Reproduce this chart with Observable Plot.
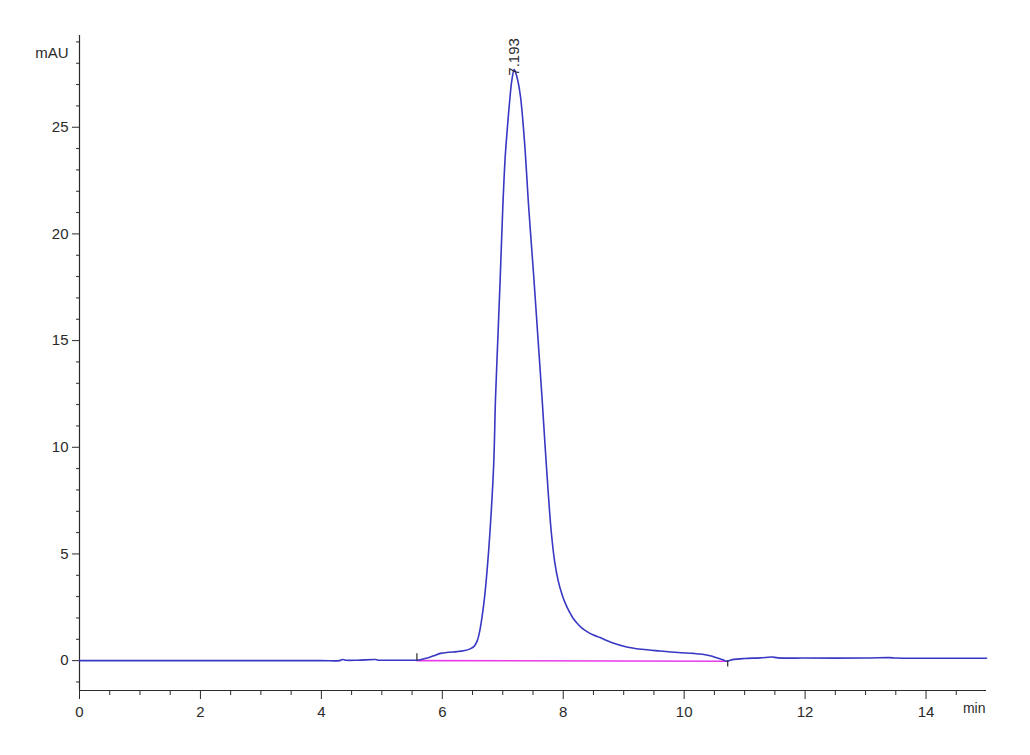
<!DOCTYPE html>
<html>
<head>
<meta charset="utf-8">
<script src="https://cdn.jsdelivr.net/npm/d3@7"></script>
<script src="https://cdn.jsdelivr.net/npm/@observablehq/plot@0.6"></script>
<style>
  html, body { margin: 0; padding: 0; background: #fff; }
  #chart svg { display: block; }
</style>
</head>
<body>
<div id="chart"></div>
<script>
// Chromatogram trace (time in min, absorbance in mAU)
const times = [0, 1, 2, 3, 4, 4.3, 4.35, 4.4, 4.6, 4.9, 4.95, 5.0, 5.3, 5.58, 5.65, 5.75, 5.86, 5.97, 6.1, 6.24, 6.35, 6.46, 6.53, 6.58, 6.62, 6.66, 6.7, 6.74, 6.79, 6.85, 6.88, 6.92, 6.96, 7.0, 7.04, 7.08, 7.11, 7.15, 7.19, 7.23, 7.29, 7.36, 7.43, 7.51, 7.58, 7.65, 7.72, 7.8, 7.86, 7.92, 7.98, 8.04, 8.1, 8.16, 8.23, 8.3, 8.4, 8.5, 8.61, 8.8, 9.05, 9.3, 9.6, 9.9, 10.15, 10.3, 10.43, 10.55, 10.65, 10.7, 10.76, 10.82, 11.0, 11.26, 11.45, 11.55, 12, 13, 13.4, 13.5, 14, 15];
const absorbance = [0, 0, 0, 0, 0, 0, 0.05, 0.02, 0.02, 0.05, 0.02, 0.02, 0.02, 0.02, 0.05, 0.12, 0.23, 0.34, 0.39, 0.42, 0.46, 0.55, 0.68, 0.95, 1.4, 2.1, 3.0, 4.2, 6.1, 9.2, 12.3, 15.2, 18.1, 21.2, 23.6, 25.1, 26.1, 27.2, 27.7, 27.4, 26.5, 24.3, 21.2, 18.1, 15.2, 12.3, 9.2, 6.1, 4.6, 3.7, 3.1, 2.65, 2.3, 2.0, 1.75, 1.55, 1.35, 1.2, 1.08, 0.85, 0.64, 0.53, 0.45, 0.38, 0.34, 0.3, 0.23, 0.12, 0.03, -0.03, 0.02, 0.06, 0.1, 0.13, 0.17, 0.13, 0.12, 0.12, 0.14, 0.12, 0.11, 0.11];

// Integration baseline
const baselineTimes = [5.58, 10.72];
const baselineValues = [0.0, -0.03];

// Peak start / end event markers
const markerTimes = [5.58, 10.72];
const markerFrom = [0, -0.3];
const markerTo = [0.32, 0];

// Peak label
const peakTimes = [7.193];
const peakHeights = [27.7];
const peakLabels = ["7.193"];

// Axes
const xDomain = [0, 15];
const yDomain = [-1.4, 29.3];
const xMajorTicks = [0, 2, 4, 6, 8, 10, 12, 14];
const xMinorTicks = [0.5, 1, 1.5, 2.5, 3, 3.5, 4.5, 5, 5.5, 6.5, 7, 7.5, 8.5, 9, 9.5, 10.5, 11, 11.5, 12.5, 13, 13.5, 14.5];
const yMajorTicks = [0, 5, 10, 15, 20, 25];
const yMinorTicks = [-1, 1, 2, 3, 4, 6, 7, 8, 9, 11, 12, 13, 14, 16, 17, 18, 19, 21, 22, 23, 24, 26, 27, 28, 29];
const yUnit = "mAU";
const xUnit = "min";

const trace = times.map((t, i) => ({t, v: absorbance[i]}));
const baseline = baselineTimes.map((t, i) => ({t, v: baselineValues[i]}));
const markers = markerTimes.map((t, i) => ({t, y1: markerFrom[i], y2: markerTo[i]}));
const peaks = peakTimes.map((t, i) => ({t, v: peakHeights[i], label: peakLabels[i]}));

const FONT = '"Liberation Sans Narrow", "Liberation Sans", Arial, sans-serif';
const AXIS = "#2a2a2a";

const chart = Plot.plot({
  width: 1030,
  height: 755,
  marginLeft: 79,
  marginRight: 44,
  marginTop: 35,
  marginBottom: 65,
  style: {fontFamily: FONT, fontSize: "15px", color: AXIS, background: "#fff"},
  x: {domain: xDomain, axis: null},
  y: {domain: yDomain, axis: null},
  marks: [
    // axis lines
    Plot.ruleY([yDomain[0]], {stroke: AXIS, strokeWidth: 1.2}),
    Plot.ruleX([xDomain[0]], {stroke: AXIS, strokeWidth: 1.2}),
    // ticks
    Plot.axisX({ticks: xMajorTicks, anchor: "bottom", tickSize: 9, tickPadding: 7, label: null, fontSize: 15, stroke: AXIS}),
    Plot.axisX({ticks: xMinorTicks, anchor: "bottom", tickSize: 5, tickFormat: () => "", label: null, stroke: AXIS}),
    Plot.axisY({ticks: yMajorTicks, anchor: "left", tickSize: 7, tickPadding: 4, label: null, fontSize: 15, stroke: AXIS}),
    Plot.axisY({ticks: yMinorTicks, anchor: "left", tickSize: 3, tickFormat: () => "", label: null, stroke: AXIS}),
    // unit labels
    Plot.text([yUnit], {frameAnchor: "top-left", dx: -11, dy: 12, textAnchor: "end", fontSize: 15, fill: AXIS}),
    Plot.text([xUnit], {frameAnchor: "bottom-right", dx: -1, dy: 22, textAnchor: "end", fontSize: 14, fill: AXIS}),
    // baseline
    Plot.line(baseline, {x: "t", y: "v", stroke: "#e83ce8", strokeWidth: 1.6}),
    // trace
    Plot.line(trace, {x: "t", y: "v", stroke: "#3838c4", strokeWidth: 1.6, curve: "catmull-rom"}),
    // event markers
    Plot.ruleX(markers, {x: "t", y1: "y1", y2: "y2", stroke: AXIS, strokeWidth: 1.2}),
    // peak label
    Plot.text(peaks, {x: "t", y: "v", text: "label", rotate: -90, textAnchor: "start", dy: 6, fontSize: 15, fill: AXIS})
  ]
});

document.getElementById("chart").appendChild(chart);
</script>
</body>
</html>
